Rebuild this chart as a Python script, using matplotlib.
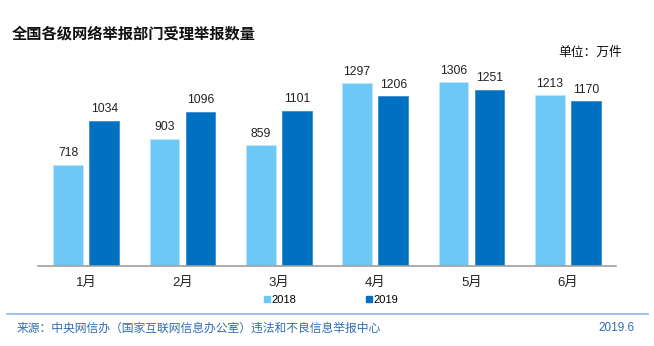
import matplotlib.pyplot as plt
from matplotlib.lines import Line2D
import numpy as np

plt.rcParams['font.family'] = ['Liberation Sans', 'Noto Sans CJK SC', 'DejaVu Sans']

# data
months = ['1月', '2月', '3月', '4月', '5月', '6月']
v2018 = [718, 903, 859, 1297, 1306, 1213]
v2019 = [1034, 1096, 1101, 1206, 1251, 1170]

c2018 = '#6DC8F6'
c2019 = '#0070C0'

fig = plt.figure(figsize=(6.54, 3.46), dpi=100)
ax = fig.add_axes([38/654, 1 - 266/346, 578/654, 206/346])

x = np.arange(len(months))
off = 0.187
w = 0.31
ax.bar(x - off, v2018, w, color=c2018, edgecolor='#BDE6FB', linewidth=0.6)
ax.bar(x + off, v2019, w, color=c2019, edgecolor='#3A8FD0', linewidth=0.6)

for xi, a, b in zip(x, v2018, v2019):
    ax.text(xi - off, a + 40, str(a), ha='center', va='bottom', fontsize=8.7, color='#222222')
    ax.text(xi + off, b + 40, str(b), ha='center', va='bottom', fontsize=8.7, color='#222222')

ax.set_xlim(-0.5, len(months) - 0.5)
ax.set_ylim(0, 1464)
ax.set_yticks([])
ax.set_xticks(x)
ax.set_xticklabels(months, fontsize=9.5)
ax.tick_params(axis='x', length=0, pad=8, colors='#222222')
for s in ['top', 'right', 'left']:
    ax.spines[s].set_visible(False)
ax.spines['bottom'].set_color('#A0A0A0')
ax.spines['bottom'].set_linewidth(1.2)

handles = [Line2D([], [], marker='s', linestyle='none', markersize=5, color=c2018),
           Line2D([], [], marker='s', linestyle='none', markersize=5, color=c2019)]
fig.legend(handles, ['2018', '2019'], loc='center', bbox_to_anchor=(331/654, 1 - 300/346),
           ncol=2, frameon=False, fontsize=8, handlelength=0.6, handletextpad=0.1,
           columnspacing=6.3)

fig.text(12/654, 1 - 33/346, '全国各级网络举报部门受理举报数量', fontsize=11, fontweight='bold',
         family=['Noto Sans CJK SC'], va='center', ha='left', color='#111111')
fig.text(622/654, 1 - 52/346, '单位：万件', fontsize=9.2, family=['Noto Sans CJK SC'],
         va='center', ha='right', color='#111111')

fig.add_artist(Line2D([7/654, 648/654], [1 - 314/346, 1 - 314/346], color='#8DB4E2', linewidth=1.2))
fig.text(17/654, 1 - 328/346, '来源：中央网信办（国家互联网信息办公室）违法和不良信息举报中心', fontsize=8.5,
         family=['Noto Sans CJK SC'], va='center', ha='left', color='#2E6DB4')
fig.text(635/654, 1 - 328/346, '2019.6', fontsize=8.5, va='center', ha='right', color='#2E6DB4')

fig.savefig('out.png', dpi=100)
